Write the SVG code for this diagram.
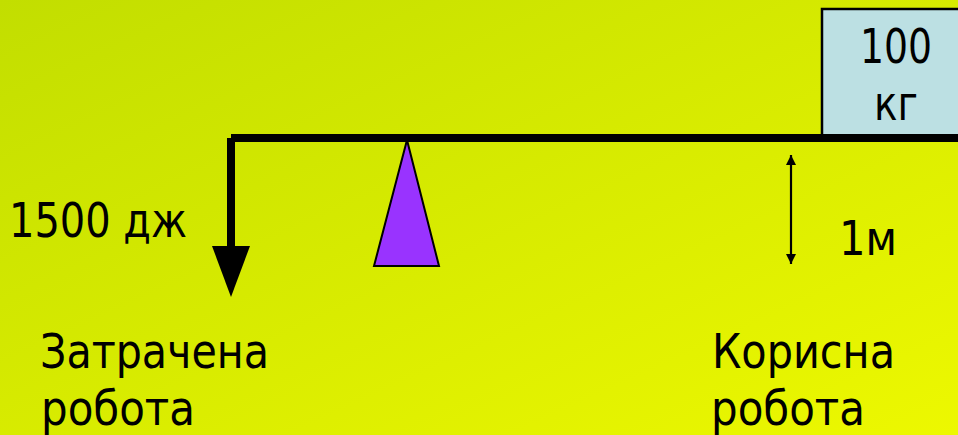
<svg xmlns="http://www.w3.org/2000/svg" width="958" height="435" viewBox="0 0 958 435">
  <defs>
    <linearGradient id="bg" x1="0" y1="0" x2="1" y2="1">
      <stop offset="0" stop-color="#C2DE00"/>
      <stop offset="1" stop-color="#EDF800"/>
    </linearGradient>
    <marker id="ah" viewBox="0 0 10 12" refX="10" refY="6" markerWidth="11" markerHeight="12" markerUnits="userSpaceOnUse" orient="auto">
      <path d="M0,1 L10,6 L0,11 Z" fill="#000"/>
    </marker>
    <marker id="ahs" viewBox="0 0 10 12" refX="0" refY="6" markerWidth="11" markerHeight="12" markerUnits="userSpaceOnUse" orient="auto">
      <path d="M10,1 L0,6 L10,11 Z" fill="#000"/>
    </marker>
  </defs>
  <style>
    text { font-family: "DejaVu Sans Condensed", "DejaVu Sans", Tahoma, "Liberation Sans", sans-serif; font-size: 48px; fill: #000; }
    .mid { text-anchor: middle; }
  </style>
  <rect x="0" y="0" width="958" height="435" fill="url(#bg)"/>

  <g id="load">
    <rect x="822" y="9" width="150" height="129" fill="#BCE0E3" stroke="#000" stroke-width="2.5"/>
    <text class="mid" x="896" y="63" textLength="72" lengthAdjust="spacingAndGlyphs">100</text>
    <text class="mid" x="896" y="120" textLength="44" lengthAdjust="spacingAndGlyphs">кг</text>
  </g>

  <g id="fulcrum">
    <polygon points="407,140 374,266 439,266" fill="#9933FF" stroke="#000" stroke-width="2"/>
  </g>

  <g id="connectors">
    <line id="beam" x1="231" y1="138" x2="958" y2="138" stroke="#000" stroke-width="8"/>
    <line id="effort" x1="231" y1="138" x2="231" y2="247" stroke="#000" stroke-width="8"/>
    <polygon points="212,246 250,246 231,297" fill="#000"/>
    <line id="height" x1="791" y1="155" x2="791" y2="264" stroke="#000" stroke-width="2.2" marker-start="url(#ahs)" marker-end="url(#ah)"/>
  </g>

  <g id="labels">
    <text x="9" y="237" textLength="178" lengthAdjust="spacingAndGlyphs">1500 дж</text>
    <text x="839" y="255" textLength="58" lengthAdjust="spacingAndGlyphs">1м</text>
    <text x="40" y="368" textLength="229" lengthAdjust="spacingAndGlyphs">Затрачена</text>
    <text x="41" y="425" textLength="154" lengthAdjust="spacingAndGlyphs">робота</text>
    <text x="712" y="368" textLength="183" lengthAdjust="spacingAndGlyphs">Корисна</text>
    <text x="711" y="425" textLength="154" lengthAdjust="spacingAndGlyphs">робота</text>
  </g>
</svg>
